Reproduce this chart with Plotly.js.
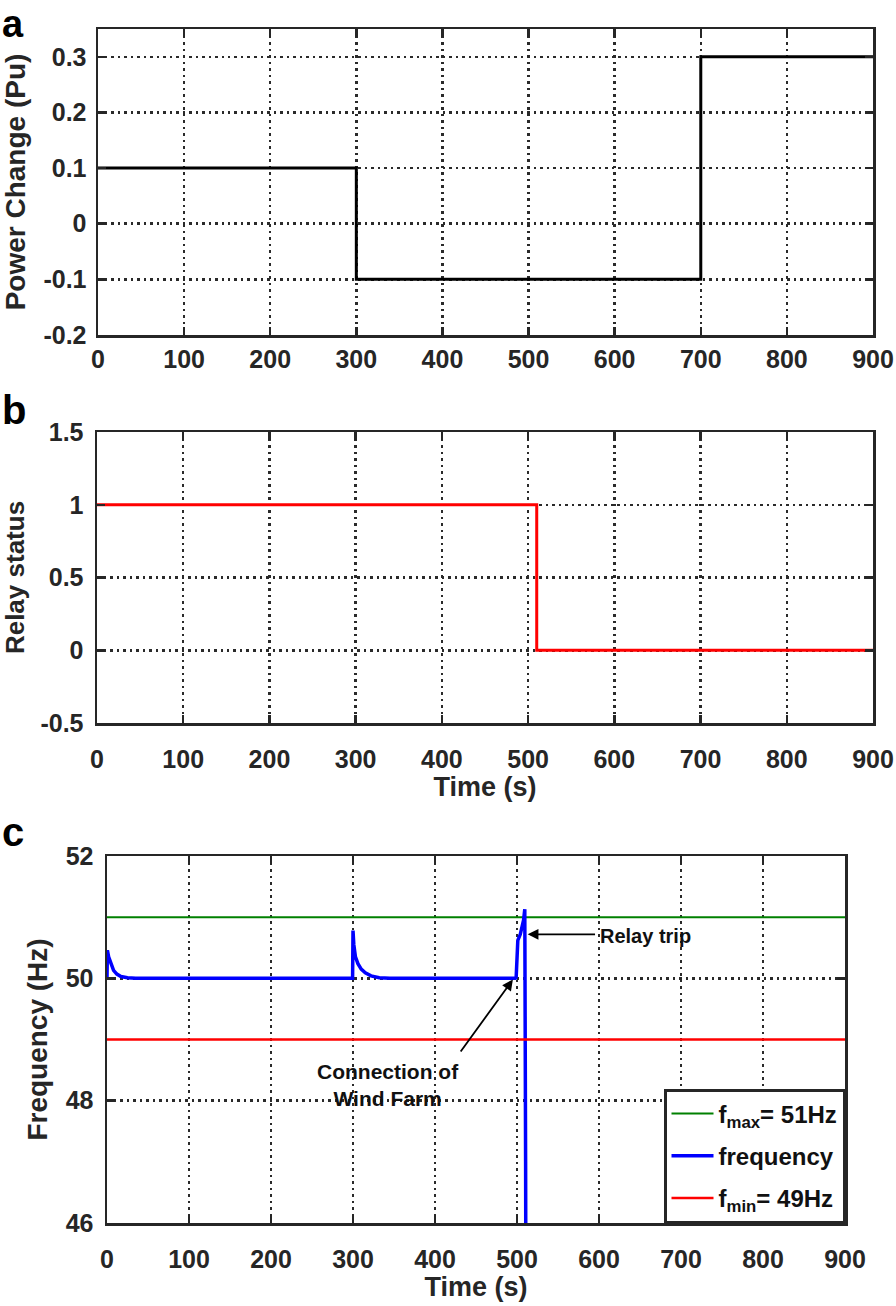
<!DOCTYPE html>
<html>
<head>
<meta charset="utf-8">
<script src="https://cdn.plot.ly/plotly-3.0.1.min.js"></script>
<style>html,body{margin:0;padding:0;background:#fff;}#chart{width:896px;height:1306px;}</style>
</head>
<body>
<div id="chart"></div>
<script>
// ---- Data ----
// Panel a: power change step profile
const powerTime = [0, 300, 300, 700, 700, 900];
const powerChange = [0.1, 0.1, -0.1, -0.1, 0.3, 0.3];
// Panel b: relay status
const relayTime = [0, 510, 510, 900];
const relayStatus = [1, 1, 0, 0];
// Panel c: frequency
const freqTime = [0, 0.5, 2, 5, 8, 12, 17, 25, 35, 299.5, 300, 301, 303, 306, 310, 315, 322, 332, 345, 498, 499, 501, 504, 508, 509.5, 510.5, 511];
const freqValue = [50.0, 50.46, 50.35, 50.22, 50.13, 50.07, 50.03, 50.01, 50.0, 50.0, 50.78, 50.55, 50.35, 50.24, 50.15, 50.09, 50.04, 50.01, 50.0, 50.0, 50.02, 50.62, 50.72, 50.95, 51.13, 47.0, 44.0];
const limitTime = [0, 900];
const fMax = [51, 51];
const fMin = [49, 49];
// Tick labels
const timeTicks = [0, 100, 200, 300, 400, 500, 600, 700, 800, 900];
const timeTickText = ['0', '100', '200', '300', '400', '500', '600', '700', '800', '900'];
const powerTicks = [-0.2, -0.1, 0, 0.1, 0.2, 0.3];
const powerTickText = ['-0.2', '-0.1', '0', '0.1', '0.2', '0.3'];
const relayTicks = [-0.5, 0, 0.5, 1, 1.5];
const relayTickText = ['-0.5', '0', '0.5', '1', '1.5'];
const freqTicks = [46, 48, 50, 52];
const freqTickText = ['46', '48', '50', '52'];

const W = 896, H = 1306;
const FONT = 'Liberation Sans, Arial, sans-serif';
const AX = '#262626';

function xd(l, r) { return [l / W, r / W]; }
function yd(t, b) { return [1 - b / H, 1 - t / H]; }

function axisBase(extra) {
  return Object.assign({
    showline: true, linecolor: AX, linewidth: 2.5, mirror: 'ticks',
    ticks: 'inside', ticklen: 8, tickwidth: 2.5, tickcolor: AX,
    showgrid: true, gridcolor: '#2a2a2a', gridwidth: 2.5, griddash: '2.5px,4px',
    zeroline: false, tickmode: 'array',
    tickfont: {family: FONT, size: 25, color: AX, weight: 'bold'}
  }, extra);
}

const traces = [
  {x: powerTime, y: powerChange, xaxis: 'x', yaxis: 'y', mode: 'lines', line: {color: '#000000', width: 3}, showlegend: false},
  {x: relayTime, y: relayStatus, xaxis: 'x2', yaxis: 'y2', mode: 'lines', line: {color: '#ff0000', width: 3}, showlegend: false},
  {x: limitTime, y: fMax, xaxis: 'x3', yaxis: 'y3', mode: 'lines', line: {color: '#008000', width: 2}, name: 'f<sub>max</sub>= 51Hz', legendgroup: 'g1'},
  {x: freqTime, y: freqValue, xaxis: 'x3', yaxis: 'y3', mode: 'lines', line: {color: '#0000ff', width: 3.5}, name: 'frequency', legendgroup: 'g2'},
  {x: limitTime, y: fMin, xaxis: 'x3', yaxis: 'y3', mode: 'lines', line: {color: '#ff0000', width: 2.5}, name: 'f<sub>min</sub>= 49Hz', legendgroup: 'g3'}
];

const titleFont = {family: FONT, size: 27, color: AX, weight: 'bold'};

const layout = {
  width: W, height: H,
  margin: {l: 0, r: 0, t: 0, b: 0},
  paper_bgcolor: '#ffffff', plot_bgcolor: '#ffffff',
  showlegend: true,
  xaxis: axisBase({domain: xd(98, 873), anchor: 'y', range: [0, 900], tickvals: timeTicks, ticktext: timeTickText, ticklabelstandoff: 0}),
  yaxis: axisBase({domain: yd(29, 335), anchor: 'x', range: [-0.2, 0.35], tickvals: powerTicks, ticktext: powerTickText, ticklabelstandoff: 4,
    title: {text: 'Power Change (Pu)', font: {family: FONT, size: 28, color: AX, weight: 'bold'}, standoff: 10}}),
  xaxis2: axisBase({domain: xd(97, 873), anchor: 'y2', range: [0, 900], tickvals: timeTicks, ticktext: timeTickText, ticklabelstandoff: 12,
    title: {text: 'Time (s)', font: titleFont, standoff: 6}}),
  yaxis2: axisBase({domain: yd(432, 723), anchor: 'x2', range: [-0.5, 1.5], tickvals: relayTicks, ticktext: relayTickText, ticklabelstandoff: 6,
    title: {text: 'Relay status', font: {family: FONT, size: 26, color: AX, weight: 'bold'}, standoff: 10}}),
  xaxis3: axisBase({domain: xd(107, 845), anchor: 'y3', range: [0, 900], tickvals: timeTicks, ticktext: timeTickText, ticklabelstandoff: 12,
    title: {text: 'Time (s)', font: titleFont, standoff: 6}}),
  yaxis3: axisBase({domain: yd(856, 1223), anchor: 'x3', range: [46, 52], tickvals: freqTicks, ticktext: freqTickText, ticklabelstandoff: 6,
    title: {text: 'Frequency (Hz)', font: {family: FONT, size: 28, color: AX, weight: 'bold'}, standoff: 10}}),
  legend: {
    x: 845 / W, xanchor: 'right', y: 1 - 1223 / H, yanchor: 'bottom',
    bgcolor: '#ffffff', bordercolor: AX, borderwidth: 2.5,
    font: {family: FONT, size: 24, color: '#111', weight: 'bold'},
    tracegroupgap: 8, itemwidth: 42
  },
  annotations: [
    {text: 'a', xref: 'paper', yref: 'paper', x: 0, xanchor: 'left', y: 1 - 24 / H, yanchor: 'middle', showarrow: false, font: {family: FONT, size: 38, color: '#000', weight: 'bold'}},
    {text: 'b', xref: 'paper', yref: 'paper', x: 0, xanchor: 'left', y: 1 - 410 / H, yanchor: 'middle', showarrow: false, font: {family: FONT, size: 40, color: '#000', weight: 'bold'}},
    {text: 'c', xref: 'paper', yref: 'paper', x: 0, xanchor: 'left', y: 1 - 832 / H, yanchor: 'middle', showarrow: false, font: {family: FONT, size: 40, color: '#000', weight: 'bold'}},
    {text: '', xref: 'x3', yref: 'y3', axref: 'x3', ayref: 'y3', x: 513, y: 50.72, ax: 597, ay: 50.72, showarrow: true, arrowhead: 2, arrowsize: 1.2, arrowwidth: 1.8, arrowcolor: '#000'},
    {text: 'Relay trip', xref: 'x3', yref: 'y3', x: 599, y: 50.69, xanchor: 'left', yanchor: 'middle', showarrow: false, font: {family: FONT, size: 20, color: '#111', weight: 'bold'}},
    {text: '', xref: 'x3', yref: 'y3', axref: 'x3', ayref: 'y3', x: 495, y: 49.98, ax: 430, ay: 48.78, showarrow: true, arrowhead: 2, arrowsize: 1.2, arrowwidth: 1.8, arrowcolor: '#000'},
    {text: 'Connection of<br>Wind Farm', xref: 'x3', yref: 'y3', x: 343, y: 48.26, xanchor: 'center', yanchor: 'middle', align: 'center', showarrow: false, font: {family: FONT, size: 21, color: '#111', weight: 'bold'}}
  ]
};

Plotly.newPlot('chart', traces, layout, {displayModeBar: false, staticPlot: true});
</script>
</body>
</html>
